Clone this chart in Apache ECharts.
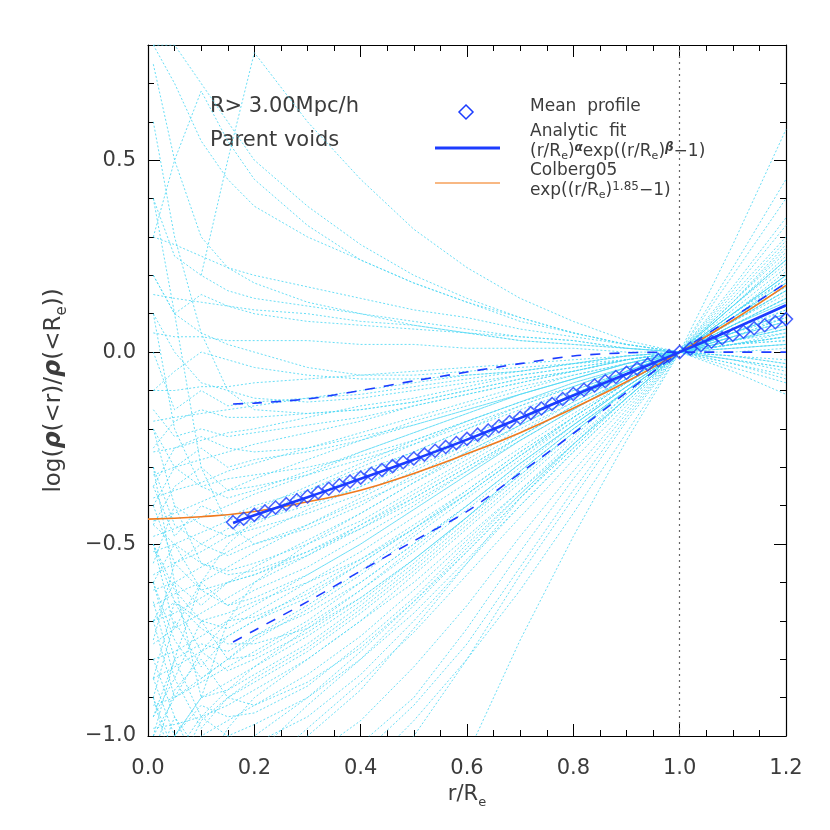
<!DOCTYPE html>
<html>
<head>
<meta charset="utf-8">
<script src="https://cdn.jsdelivr.net/npm/echarts@6/dist/echarts.min.js"></script>
<style>
  html, body { margin: 0; padding: 0; background: #fff; }
  #chart { width: 830px; height: 830px; }
</style>
</head>
<body>
<div id="chart"></div>
<script>
// r/Re sample points of the individual void profiles
const profileX = [0.01, 0.05, 0.1, 0.15, 0.2, 0.3, 0.4, 0.5, 0.6, 0.7, 0.8, 0.9, 1.0, 1.1, 1.2];
// individual profiles (cyan dotted)
const v01 = [-1.3, -1.25, -1.2, -1.15, -1.1, -1.0, -0.88, -0.72, -0.55, -0.38, -0.24, -0.11, 0, 0.13, 0.28];
const v02 = [-1.3, -1.3, -1.25, -1.2, -1.15, -1.1, -1.02, -0.9, -0.72, -0.52, -0.33, -0.16, 0, 0.16, 0.33];
const v03 = [-1.1, -1.05, -1.0, -0.96, -0.92, -0.84, -0.74, -0.62, -0.49, -0.36, -0.23, -0.11, 0, 0.11, 0.22];
const v04 = [-0.98, -0.97, -0.95, -0.92, -0.88, -0.8, -0.7, -0.58, -0.46, -0.34, -0.22, -0.1, 0, 0.1, 0.2];
const v05 = [-0.92, -0.9, -0.86, -0.82, -0.78, -0.7, -0.6, -0.5, -0.4, -0.29, -0.19, -0.09, 0, 0.09, 0.17];
const v06 = [-0.85, -0.82, -0.78, -0.74, -0.7, -0.62, -0.54, -0.45, -0.36, -0.26, -0.17, -0.08, 0, 0.08, 0.16];
const v07 = [-0.8, -0.78, -0.74, -0.7, -0.66, -0.58, -0.5, -0.41, -0.32, -0.23, -0.15, -0.07, 0, 0.07, 0.14];
const v08 = [-0.76, -0.72, -0.68, -0.64, -0.6, -0.53, -0.45, -0.37, -0.29, -0.21, -0.13, -0.06, 0, 0.06, 0.12];
const v09 = [-0.7, -0.68, -0.64, -0.6, -0.56, -0.49, -0.42, -0.34, -0.27, -0.19, -0.12, -0.06, 0, 0.06, 0.12];
const v10 = [-0.66, -0.63, -0.6, -0.56, -0.52, -0.45, -0.38, -0.31, -0.24, -0.17, -0.11, -0.05, 0, 0.05, 0.1];
const v11 = [-0.62, -0.6, -0.56, -0.52, -0.48, -0.41, -0.35, -0.28, -0.22, -0.16, -0.1, -0.05, 0, 0.05, 0.1];
const v12 = [-0.58, -0.55, -0.52, -0.48, -0.45, -0.38, -0.32, -0.26, -0.2, -0.14, -0.09, -0.04, 0, 0.04, 0.09];
const v13 = [-0.52, -0.5, -0.47, -0.44, -0.41, -0.35, -0.29, -0.23, -0.18, -0.13, -0.08, -0.04, 0, 0.04, 0.08];
const v14 = [-0.48, -0.46, -0.43, -0.4, -0.37, -0.32, -0.26, -0.21, -0.16, -0.11, -0.07, -0.03, 0, 0.03, 0.07];
const v15 = [-0.44, -0.42, -0.39, -0.36, -0.33, -0.28, -0.23, -0.18, -0.14, -0.1, -0.06, -0.03, 0, 0.03, 0.06];
const v16 = [-0.38, -0.36, -0.34, -0.31, -0.29, -0.25, -0.21, -0.17, -0.13, -0.09, -0.06, -0.03, 0, 0.03, 0.05];
const v17 = [-0.32, -0.3, -0.28, -0.26, -0.24, -0.21, -0.18, -0.14, -0.11, -0.08, -0.05, -0.02, 0, 0.02, 0.04];
const v18 = [-0.26, -0.25, -0.23, -0.21, -0.2, -0.17, -0.14, -0.12, -0.09, -0.06, -0.04, -0.02, 0, 0.02, 0.03];
const v19 = [-0.18, -0.17, -0.16, -0.15, -0.14, -0.12, -0.1, -0.08, -0.06, -0.05, -0.03, -0.01, 0, 0.01, 0.02];
const v20 = [-0.1, -0.1, -0.09, -0.09, -0.08, -0.07, -0.06, -0.05, -0.04, -0.03, -0.02, -0.01, 0, 0, 0.01];
const v21 = [0.05, 0.04, 0.04, 0.03, 0.03, 0.03, 0.02, 0.02, 0.01, 0.01, 0.01, 0, 0, -0.01, -0.02];
const v22 = [0.15, 0.14, 0.13, 0.12, 0.11, 0.1, 0.08, 0.07, 0.05, 0.04, 0.03, 0.01, 0, -0.02, -0.04];
const v23 = [0.3, 0.28, 0.25, 0.22, 0.2, 0.17, 0.14, 0.11, 0.09, 0.06, 0.04, 0.02, 0, -0.03, -0.06];
const v24 = [0.8, 0.7, 0.55, 0.45, 0.38, 0.3, 0.24, 0.18, 0.13, 0.09, 0.05, 0.02, 0, -0.03, -0.07];
const v25 = [null, null, 0.2, 0.5, 0.78, 0.6, 0.45, 0.32, 0.22, 0.14, 0.08, 0.03, 0, -0.04, -0.08];
const v26 = [0.3, 0.5, 0.68, 0.55, 0.45, 0.33, 0.24, 0.18, 0.13, 0.08, 0.05, 0.02, 0, -0.02, -0.05];
const v27 = [-1.3, -1.3, -1.3, -1.3, -1.3, -1.25, -1.15, -1.0, -0.8, -0.58, -0.38, -0.18, 0, 0.2, 0.4];
const v28 = [-1.2, -1.2, -1.2, -1.15, -1.12, -1.06, -0.96, -0.82, -0.66, -0.48, -0.31, -0.15, 0, 0.15, 0.3];
const v29 = [-0.3, -0.6, -0.9, -0.7, -0.6, -0.5, -0.42, -0.34, -0.26, -0.19, -0.12, -0.06, 0, 0.06, 0.11];
const v30 = [0.4, 0.1, -0.3, -0.45, -0.5, -0.46, -0.4, -0.32, -0.25, -0.18, -0.11, -0.05, 0, 0.05, 0.1];
const v31 = [-1.0, -0.8, -0.6, -0.5, -0.44, -0.36, -0.3, -0.24, -0.18, -0.13, -0.08, -0.04, 0, 0.04, 0.08];
const v32 = [0.6, 0.3, 0.05, -0.1, -0.15, -0.16, -0.15, -0.13, -0.1, -0.07, -0.05, -0.02, 0, 0.02, 0.04];
const v33 = [-0.6, -0.75, -0.85, -0.8, -0.74, -0.66, -0.57, -0.47, -0.37, -0.27, -0.17, -0.08, 0, 0.08, 0.15];
const v34 = [0.2, 0.1, 0.05, 0.02, 0, -0.04, -0.06, -0.06, -0.05, -0.04, -0.03, -0.01, 0, 0.01, 0.02];
const v35 = [-0.2, -0.4, -0.55, -0.58, -0.57, -0.52, -0.46, -0.38, -0.3, -0.22, -0.14, -0.07, 0, 0.07, 0.14];
const v36 = [-1.25, -1.2, -1.1, -0.98, -0.9, -0.8, -0.7, -0.6, -0.48, -0.36, -0.24, -0.12, 0, 0.12, 0.24];
const v37 = [0.75, 0.5, 0.3, 0.22, 0.18, 0.13, 0.1, 0.07, 0.05, 0.03, 0.02, 0.01, 0, -0.01, -0.03];
const v38 = [-0.9, -1.1, -1.2, -1.15, -1.05, -0.92, -0.8, -0.66, -0.52, -0.38, -0.25, -0.12, 0, 0.12, 0.25];
const v39 = [0.1, -0.2, -0.35, -0.38, -0.36, -0.31, -0.26, -0.21, -0.16, -0.11, -0.07, -0.03, 0, 0.03, 0.06];
const v40 = [-0.45, -0.5, -0.62, -0.66, -0.64, -0.58, -0.5, -0.41, -0.32, -0.23, -0.15, -0.07, 0, 0.07, 0.13];
const v41 = [-1.3, -1.3, -1.3, -1.3, -1.3, -1.3, -1.3, -1.3, -1.05, -0.75, -0.48, -0.23, 0, 0.28, 0.58];
const v42 = [0.8, 0.8, 0.7, 0.6, 0.5, 0.38, 0.28, 0.2, 0.14, 0.09, 0.05, 0.02, 0, -0.05, -0.11];
const v43 = [-0.9, -0.7, -0.82, -0.74, -0.7, -0.64, -0.55, -0.46, -0.37, -0.27, -0.18, -0.09, 0, 0.09, 0.18];
const v44 = [-0.5, -0.72, -0.6, -0.66, -0.62, -0.56, -0.48, -0.4, -0.31, -0.23, -0.15, -0.07, 0, 0.07, 0.14];
const v45 = [-0.75, -0.55, -0.5, -0.53, -0.5, -0.45, -0.39, -0.33, -0.26, -0.19, -0.12, -0.06, 0, 0.06, 0.12];
const v46 = [-0.35, -0.48, -0.4, -0.43, -0.4, -0.36, -0.31, -0.26, -0.2, -0.15, -0.1, -0.05, 0, 0.05, 0.09];
const v47 = [-0.2, -0.3, -0.25, -0.3, -0.28, -0.26, -0.23, -0.19, -0.15, -0.11, -0.07, -0.03, 0, 0.03, 0.07];
const v48 = [-1.1, -0.95, -1.05, -1.0, -0.97, -0.9, -0.8, -0.68, -0.54, -0.4, -0.26, -0.13, 0, 0.13, 0.26];
const v49 = [-1.3, -1.1, -0.96, -0.9, -0.85, -0.77, -0.67, -0.56, -0.44, -0.32, -0.21, -0.1, 0, 0.1, 0.19];
const v50 = [-0.65, -0.85, -0.7, -0.72, -0.68, -0.6, -0.52, -0.43, -0.34, -0.25, -0.16, -0.08, 0, 0.08, 0.16];
const v51 = [-0.4, -0.3, -0.35, -0.33, -0.32, -0.3, -0.27, -0.23, -0.18, -0.13, -0.09, -0.04, 0, 0.04, 0.08];
const v52 = [0.0, -0.15, -0.1, -0.14, -0.13, -0.12, -0.11, -0.09, -0.07, -0.05, -0.03, -0.02, 0, 0.02, 0.03];
const v53 = [-0.55, -0.4, -0.45, -0.48, -0.46, -0.42, -0.37, -0.3, -0.24, -0.17, -0.11, -0.05, 0, 0.05, 0.11];
const v54 = [-0.85, -1.0, -0.9, -0.88, -0.84, -0.76, -0.66, -0.55, -0.43, -0.31, -0.2, -0.1, 0, 0.1, 0.2];
const v55 = [-1.2, -1.25, -1.3, -1.2, -1.1, -0.98, -0.86, -0.73, -0.58, -0.43, -0.28, -0.14, 0, 0.14, 0.29];
const v56 = [-0.7, -0.6, -0.66, -0.6, -0.58, -0.52, -0.45, -0.38, -0.3, -0.22, -0.14, -0.07, 0, 0.07, 0.13];
const v57 = [-0.3, -0.45, -0.5, -0.46, -0.44, -0.4, -0.35, -0.29, -0.23, -0.17, -0.11, -0.05, 0, 0.05, 0.1];
const v58 = [0.1, 0.0, -0.08, -0.1, -0.12, -0.13, -0.12, -0.1, -0.08, -0.06, -0.04, -0.02, 0, 0.02, 0.04];
const v59 = [-0.15, -0.22, -0.2, -0.22, -0.21, -0.19, -0.17, -0.14, -0.11, -0.08, -0.05, -0.02, 0, 0.02, 0.05];
const v60 = [-1.0, -0.9, -0.85, -0.8, -0.75, -0.67, -0.58, -0.48, -0.38, -0.28, -0.18, -0.09, 0, 0.09, 0.17];
const v61 = [-0.8, -0.95, -1.1, -1.05, -1.0, -0.9, -0.78, -0.65, -0.51, -0.37, -0.24, -0.12, 0, 0.12, 0.23];
const v62 = [-1.3, -1.3, -1.25, -1.25, -1.2, -1.15, -1.05, -0.92, -0.76, -0.56, -0.36, -0.17, 0, 0.17, 0.35];
const v63 = [-0.6, -0.5, -0.55, -0.57, -0.55, -0.5, -0.44, -0.36, -0.28, -0.2, -0.13, -0.06, 0, 0.06, 0.12];
const v64 = [-0.45, -0.35, -0.3, -0.36, -0.35, -0.32, -0.28, -0.24, -0.19, -0.14, -0.09, -0.04, 0, 0.04, 0.09];
const v65 = [0.2, 0.1, 0.15, 0.12, 0.1, 0.08, 0.07, 0.06, 0.05, 0.03, 0.02, 0.01, 0, -0.01, -0.03];
const v66 = [-0.25, -0.18, -0.15, -0.17, -0.17, -0.16, -0.15, -0.13, -0.1, -0.07, -0.05, -0.02, 0, 0.02, 0.04];
const v67 = [-1.2, -1.0, -0.9, -0.86, -0.82, -0.74, -0.65, -0.54, -0.43, -0.32, -0.21, -0.1, 0, 0.1, 0.21];
const v68 = [-0.95, -0.8, -0.76, -0.78, -0.74, -0.68, -0.6, -0.5, -0.4, -0.29, -0.19, -0.09, 0, 0.09, 0.18];
const v69 = [-0.4, -0.55, -0.62, -0.6, -0.58, -0.53, -0.46, -0.39, -0.31, -0.22, -0.14, -0.07, 0, 0.07, 0.14];
const v70 = [-0.1, -0.05, 0.0, -0.02, -0.04, -0.06, -0.07, -0.07, -0.06, -0.05, -0.03, -0.01, 0, 0.01, 0.02];
const v71 = [0.4, 0.25, 0.2, 0.16, 0.14, 0.12, 0.1, 0.08, 0.06, 0.04, 0.03, 0.01, 0, -0.02, -0.04];
const v72 = [-1.3, -1.3, -1.3, -1.3, -1.25, -1.2, -1.1, -0.96, -0.8, -0.62, -0.42, -0.21, 0, 0.22, 0.45];
const v73 = [-0.7, -0.65, -0.72, -0.76, -0.76, -0.72, -0.64, -0.54, -0.43, -0.31, -0.2, -0.1, 0, 0.1, 0.2];
const v74 = [-0.5, -0.62, -0.7, -0.68, -0.65, -0.6, -0.54, -0.46, -0.37, -0.27, -0.17, -0.08, 0, 0.08, 0.16];
const v75 = [-0.35, -0.25, -0.22, -0.25, -0.26, -0.25, -0.22, -0.19, -0.15, -0.11, -0.07, -0.03, 0, 0.03, 0.06];
const v76 = [-0.95, -0.85, -0.98, -0.9, -0.86, -0.78, -0.68, -0.57, -0.45, -0.33, -0.21, -0.1, 0, 0.1, 0.2];
const v77 = [-0.7, -0.9, -0.78, -0.83, -0.8, -0.73, -0.64, -0.54, -0.43, -0.31, -0.2, -0.1, 0, 0.1, 0.19];
const v78 = [-1.05, -0.88, -0.8, -0.9, -0.92, -0.86, -0.77, -0.65, -0.52, -0.38, -0.25, -0.12, 0, 0.12, 0.24];
const v79 = [-0.6, -0.8, -0.95, -0.88, -0.82, -0.72, -0.62, -0.51, -0.4, -0.29, -0.19, -0.09, 0, 0.09, 0.18];
const v80 = [-0.85, -0.65, -0.7, -0.8, -0.79, -0.71, -0.62, -0.52, -0.41, -0.3, -0.19, -0.09, 0, 0.09, 0.19];
const v81 = [-1.15, -1.0, -0.92, -0.95, -0.94, -0.87, -0.76, -0.64, -0.5, -0.37, -0.24, -0.12, 0, 0.12, 0.24];
const v82 = [-0.5, -0.65, -0.78, -0.7, -0.69, -0.63, -0.55, -0.46, -0.36, -0.26, -0.17, -0.08, 0, 0.08, 0.16];
const v83 = [-0.9, -1.05, -0.95, -1.0, -1.02, -0.95, -0.84, -0.7, -0.55, -0.4, -0.26, -0.13, 0, 0.13, 0.27];
const voidProfiles = [v01, v02, v03, v04, v05, v06, v07, v08, v09, v10, v11, v12, v13, v14,
  v15, v16, v17, v18, v19, v20, v21, v22, v23, v24, v25, v26, v27, v28, v29, v30, v31, v32,
  v33, v34, v35, v36, v37, v38, v39, v40, v41, v42, v43, v44, v45, v46, v47, v48, v49, v50,
  v51, v52, v53, v54, v55, v56, v57, v58, v59, v60, v61, v62, v63, v64, v65, v66, v67, v68,
  v69, v70, v71, v72, v73, v74, v75, v76, v77, v78, v79, v80, v81, v82, v83];

// mean profile (diamonds)
const meanX = [0.16, 0.18, 0.20, 0.22, 0.24, 0.26, 0.28, 0.30, 0.32, 0.34, 0.36, 0.38, 0.40,
  0.42, 0.44, 0.46, 0.48, 0.50, 0.52, 0.54, 0.56, 0.58, 0.60, 0.62, 0.64, 0.66, 0.68, 0.70,
  0.72, 0.74, 0.76, 0.78, 0.80, 0.82, 0.84, 0.86, 0.88, 0.90, 0.92, 0.94, 0.96, 0.98, 1.00,
  1.02, 1.04, 1.06, 1.08, 1.10, 1.12, 1.14, 1.16, 1.18, 1.20];
const meanY = [-0.443, -0.434, -0.424, -0.415, -0.405, -0.396, -0.386, -0.376, -0.366, -0.356,
  -0.347, -0.337, -0.327, -0.317, -0.307, -0.297, -0.287, -0.277, -0.267, -0.257, -0.247,
  -0.237, -0.226, -0.215, -0.204, -0.193, -0.182, -0.171, -0.159, -0.147, -0.135, -0.122,
  -0.109, -0.098, -0.087, -0.076, -0.065, -0.054, -0.043, -0.032, -0.021, -0.010, 0.000,
  0.009, 0.018, 0.027, 0.036, 0.045, 0.053, 0.062, 0.070, 0.078, 0.086];

// analytic fit (solid blue)
const fitX = [0.16, 0.2, 0.3, 0.4, 0.5, 0.6, 0.7, 0.8, 0.9, 1.0, 1.1, 1.2];
const fitY = [-0.445, -0.425, -0.378, -0.33, -0.28, -0.228, -0.172, -0.113, -0.057, 0, 0.06, 0.122];

// scatter envelope (dashed blue)
const bandX = [0.16, 0.2, 0.3, 0.4, 0.5, 0.6, 0.7, 0.8, 0.9, 1.0, 1.1, 1.2];
const bandUpper = [-0.135, -0.133, -0.122, -0.1, -0.075, -0.052, -0.03, -0.01, -0.002, 0, 0, 0];
const bandLower = [-0.755, -0.725, -0.65, -0.57, -0.492, -0.415, -0.315, -0.212, -0.105, 0, 0.09, 0.18];

// Colberg05 (orange)
const colbergX = [0, 0.1, 0.2, 0.3, 0.4, 0.5, 0.6, 0.7, 0.8, 0.9, 1.0, 1.1, 1.2];
const colbergY = [-0.435, -0.429, -0.415, -0.39, -0.36, -0.316, -0.265, -0.21, -0.146, -0.077, 0, 0.083, 0.174];

const yTicks = [-1.0, -0.5, 0.0, 0.5];

const zip = (xs, ys) => xs.map((x, i) => [x, ys[i]]).filter(p => p[1] !== null);

const FONT = 'DejaVu Sans';
const TXT = '#3c3c3c';
const BLUE = '#1c3cff';
const ORANGE = '#f07a1e';

let myChart = echarts.init(document.getElementById('chart'));

let series = [];
voidProfiles.forEach((p, i) => {
  series.push({
    name: 'void' + i,
    type: 'line',
    data: zip(profileX, p),
    symbol: 'none',
    silent: true,
    clip: true,
    lineStyle: { color: '#4fd8f4', width: 1, type: [2, 2], opacity: 0.85 },
    z: 1
  });
});
series.push({
  name: 'upper', type: 'line', data: zip(bandX, bandUpper), symbol: 'none', smooth: 0.3,
  lineStyle: { color: BLUE, width: 1.6, type: [10, 9] }, z: 3
});
series.push({
  name: 'lower', type: 'line', data: zip(bandX, bandLower), symbol: 'none', smooth: 0.3,
  lineStyle: { color: BLUE, width: 1.6, type: [10, 9] }, z: 3
});
series.push({
  name: 'Colberg05', type: 'line', data: zip(colbergX, colbergY), symbol: 'none', smooth: true,
  lineStyle: { color: ORANGE, width: 1.6 }, z: 4
});
series.push({
  name: 'Analytic fit', type: 'line', data: zip(fitX, fitY), symbol: 'none', smooth: true,
  lineStyle: { color: BLUE, width: 2.6 }, z: 5
});
series.push({
  name: 'Mean profile', type: 'scatter', data: zip(meanX, meanY),
  symbol: 'diamond', symbolSize: 13,
  itemStyle: { color: 'rgba(0,0,0,0)', borderColor: BLUE, borderWidth: 1.5 },
  z: 6,
  markLine: {
    silent: true, symbol: 'none', label: { show: false },
    lineStyle: { color: '#666', type: [2, 4], width: 1.2 },
    data: [{ xAxis: 1.0 }]
  }
});

const richText = {
  t: { fontFamily: FONT, fontSize: 17, fill: TXT, lineHeight: 20 },
  s: { fontFamily: FONT, fontSize: 11, fill: TXT, verticalAlign: 'bottom', lineHeight: 11 },
  u: { fontFamily: FONT, fontSize: 12, fill: TXT, verticalAlign: 'top', lineHeight: 12 },
  ub: { fontFamily: FONT, fontSize: 12, fill: TXT, fontWeight: 'bold', fontStyle: 'italic', verticalAlign: 'top', lineHeight: 12 }
};

const axisBase = {
  type: 'value',
  splitLine: { show: false },
  axisLine: { onZero: false, lineStyle: { color: '#000', width: 1.2 } }
};

myChart.setOption({
  animation: false,
  backgroundColor: '#fff',
  grid: { left: 148, right: 44, top: 45, bottom: 94 },
  xAxis: [
    Object.assign({}, axisBase, {
      min: 0, max: 1.2, interval: 0.2, position: 'bottom',
      name: '{t|r/R}{s|e}', nameLocation: 'middle', nameGap: 42,
      nameTextStyle: {
        rich: {
          t: { fontFamily: FONT, fontSize: 21, color: TXT, lineHeight: 30 },
          s: { fontFamily: FONT, fontSize: 13, color: TXT, verticalAlign: 'bottom', lineHeight: 14 }
        }
      },
      axisTick: { inside: true, length: 12, lineStyle: { color: '#000' } },
      minorTick: { show: true, splitNumber: 4, length: 6, lineStyle: { color: '#000' } },
      axisLabel: { fontFamily: FONT, fontSize: 21, color: TXT, margin: 22, formatter: v => v.toFixed(1) }
    }),
    Object.assign({}, axisBase, {
      min: 0, max: 1.2, interval: 0.2, position: 'top',
      axisTick: { inside: true, length: 12, lineStyle: { color: '#000' } },
      minorTick: { show: true, splitNumber: 4, length: 6, lineStyle: { color: '#000' } },
      axisLabel: { show: false }
    })
  ],
  yAxis: [
    Object.assign({}, axisBase, {
      min: -1.0, max: 0.8, interval: 0.5, position: 'left',
      name: 'log({b|ρ}(<r)/{b|ρ}(<R{s|e}))', nameLocation: 'middle', nameGap: 78, nameRotate: 90,
      nameTextStyle: {
        fontFamily: FONT, fontSize: 23, color: TXT, lineHeight: 32,
        rich: {
          b: { fontFamily: FONT, fontSize: 24, color: TXT, fontWeight: 'bold', fontStyle: 'italic', lineHeight: 32 },
          s: { fontFamily: FONT, fontSize: 15, color: TXT, verticalAlign: 'bottom', lineHeight: 15 }
        }
      },
      axisTick: { inside: true, length: 12, lineStyle: { color: '#000' } },
      axisLabel: {
        fontFamily: FONT, fontSize: 21, color: TXT, margin: 12,
        showMaxLabel: false,
        formatter: v => yTicks.some(t => Math.abs(t - v) < 1e-6) ? v.toFixed(1).replace('-', '\u2212') : ''
      }
    }),
    Object.assign({}, axisBase, {
      min: -1.0, max: 0.8, interval: 0.1, position: 'left',
      axisLine: { show: false, onZero: false },
      axisTick: { inside: true, length: 6, lineStyle: { color: '#000' } },
      axisLabel: { show: false }
    }),
    Object.assign({}, axisBase, {
      min: -1.0, max: 0.8, interval: 0.5, position: 'right',
      axisTick: { inside: true, length: 12, lineStyle: { color: '#000' } },
      axisLabel: { show: false }
    }),
    Object.assign({}, axisBase, {
      min: -1.0, max: 0.8, interval: 0.1, position: 'right',
      axisLine: { show: false, onZero: false },
      axisTick: { inside: true, length: 6, lineStyle: { color: '#000' } },
      axisLabel: { show: false }
    })
  ],
  graphic: [
    { type: 'text', left: 210, top: 96, style: { text: 'R> 3.00Mpc/h', fontFamily: FONT, fontSize: 21, fill: TXT } },
    { type: 'text', left: 210, top: 130, style: { text: 'Parent voids', fontFamily: FONT, fontSize: 21, fill: TXT } },
    // legend
    { type: 'polygon', shape: { points: [[466, 105], [473, 112], [466, 119], [459, 112]] },
      style: { fill: 'none', stroke: BLUE, lineWidth: 1.5 } },
    { type: 'text', left: 530, top: 98, style: { text: 'Mean  profile', fontFamily: FONT, fontSize: 17, fill: TXT } },
    { type: 'line', shape: { x1: 435, y1: 148, x2: 500, y2: 148 }, style: { stroke: BLUE, lineWidth: 3 } },
    { type: 'text', left: 530, top: 123, style: {
      text: '{t|Analytic  fit}\n{t|(r/R}{s|e}{t|)}{ub|α}{t|exp((r/R}{s|e}{t|)}{ub|β}{t|\u22121)}',
      rich: richText } },
    { type: 'line', shape: { x1: 435, y1: 183, x2: 500, y2: 183 }, style: { stroke: '#f6a05a', lineWidth: 1.5 } },
    { type: 'text', left: 530, top: 162, style: {
      text: '{t|Colberg05}\n{t|exp((r/R}{s|e}{t|)}{u|1.85}{t|\u22121)}',
      rich: richText } }
  ],
  series: series
});
</script>
</body>
</html>
